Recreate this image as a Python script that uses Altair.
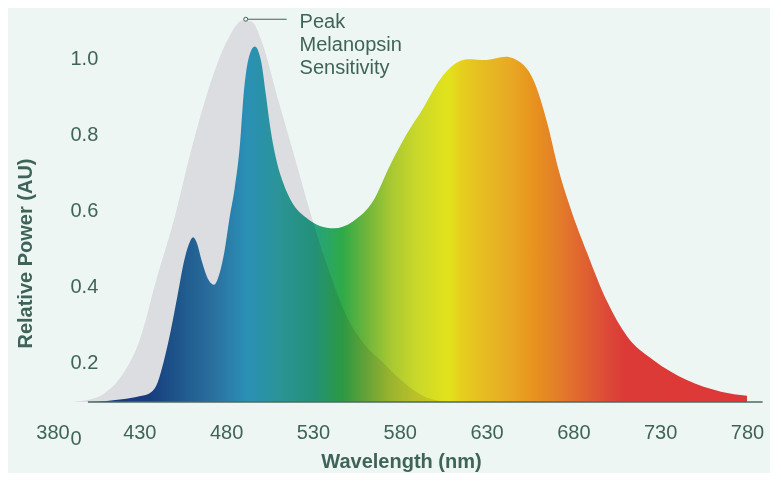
import altair as alt
import pandas as pd

# ---------------- data ----------------
BASE = 0.095  # level of the drawn baseline

mel_wl = [390, 400, 410, 420, 430, 440, 450, 460, 470, 480, 490, 495, 500,
          510, 520, 530, 540, 550, 560, 570, 580, 590, 600, 610]
mel_val = [0.095, 0.100, 0.118, 0.165, 0.255, 0.42, 0.575, 0.76, 0.92, 1.04,
           1.10, 1.095, 1.05, 0.89, 0.73, 0.57, 0.43, 0.315, 0.245, 0.20,
           0.155, 0.12, 0.10, 0.095]

spd_wl = [400, 410, 420, 430, 436, 440, 444, 448, 452, 456, 459, 461, 463,
          466, 470, 473, 476, 479, 482, 485, 488, 490, 493, 496.5, 500, 503,
          505, 509, 513, 518, 526, 534, 542, 553, 565, 574, 584, 594, 603,
          611, 619, 630, 641, 649, 657, 665, 671, 678, 688, 699, 711, 726,
          745, 765, 780]
spd_val = [0.095, 0.097, 0.102, 0.11, 0.118, 0.14, 0.20, 0.28, 0.375, 0.47,
           0.515, 0.528, 0.515, 0.465, 0.415, 0.403, 0.43, 0.49, 0.58, 0.66,
           0.775, 0.90, 1.00, 1.03, 0.995, 0.90, 0.83, 0.73, 0.67, 0.62,
           0.58, 0.558, 0.552, 0.57, 0.626, 0.714, 0.80, 0.872, 0.942,
           0.982, 0.997, 0.995, 1.003, 0.99, 0.942, 0.828, 0.714, 0.609,
           0.486, 0.363, 0.267, 0.205, 0.153, 0.122, 0.111]

x_ticks = [380, 430, 480, 530, 580, 630, 680, 730, 780]
y_ticks = [0, 0.2, 0.4, 0.6, 0.8, 1.0]

peak_wl = 491.3
peak_val = 1.102
note_lines = ["Peak", "Melanopsin", "Sensitivity"]

# ---------------- styles ----------------
BG = "#eef6f3"
TXT = "#3e6459"
FONT = "Liberation Sans"
GREY = "#ece5eb"  # multiplied over background / spectrum
spectrum_stops = [
    (400, "#183f81"), (436, "#19448a"), (453, "#206197"), (472, "#2d7bac"),
    (492, "#2da1c6"), (511, "#2da5a3"), (530, "#26a283"), (547, "#2eaa48"),
    (560, "#6ab43c"), (575, "#a8c832"), (590, "#cad82a"), (608, "#e2e31a"),
    (615, "#e6d01e"), (628, "#e6bc22"), (643, "#e8aa24"), (655, "#e8961e"),
    (670, "#e48028"), (685, "#e06430"), (700, "#dc4838"), (710, "#dc3a36"),
    (780, "#dc3838"),
]

mel = pd.DataFrame({"wl": mel_wl, "val": mel_val, "base": BASE})
spd = pd.DataFrame({"wl": spd_wl, "val": spd_val, "base": BASE})
base_df = pd.DataFrame({"wl": [400.4], "wl2": [789.0], "val": [BASE]})
peak_df = pd.DataFrame({"wl": [peak_wl], "val": [peak_val]})
lead_df = pd.DataFrame({"wl": [peak_wl + 0.8], "wl2": [514.9], "val": [peak_val]})
note_df = pd.DataFrame({"wl": [522.3], "val": [1.079], "txt": [note_lines]})

xs = alt.Scale(domain=[380, 780], nice=False, zero=False)
ys = alt.Scale(domain=[0, 1.1], nice=False, zero=False)

x_axis = alt.Axis(
    values=x_ticks, format="d", title="Wavelength (nm)", domain=False,
    ticks=False, tickSize=0, grid=False, labelFlush=False, labelOverlap=False,
    labelPadding=0, offset=-6, labelBaseline="middle", labelFontSize=20,
    labelColor=TXT, labelFont=FONT, titleFont=FONT, titleFontSize=20,
    titleFontWeight="bold", titleColor=TXT, titleX=348.5, titleY=29,
    titleBaseline="middle",
)
y_axis = alt.Axis(
    values=y_ticks,
    labelExpr="datum.value == 0 ? '0' : format(datum.value, '.1f')",
    title="Relative Power (AU)", domain=False, ticks=False, tickSize=0,
    grid=False, labelFlush=False, labelOverlap=False, labelAlign="left",
    labelPadding=0, offset=-17.5, labelFontSize=20, labelColor=TXT,
    labelFont=FONT, titleFont=FONT, titleFontSize=20, titleFontWeight="bold",
    titleColor=TXT, titleX=-45, titleY=233, titleBaseline="middle",
)

X = alt.X("wl:Q", scale=xs, axis=x_axis)
Y = alt.Y("val:Q", scale=ys, axis=y_axis)

grad = alt.Gradient(
    gradient="linear",
    stops=[alt.GradientStop(offset=(w - 400) / 380.0, color=c) for w, c in spectrum_stops],
    x1=0, x2=1, y1=0, y2=0,
)

spectrum = alt.Chart(spd).mark_area(interpolate="monotone", color=grad).encode(
    x=X, y=Y, y2="base:Q"
)
grey = alt.Chart(mel).mark_area(
    interpolate="monotone", color=GREY, blend="multiply"
).encode(x=X, y=Y, y2="base:Q")

baseline = alt.Chart(base_df).mark_rule(color="#4b6a62", strokeWidth=1.5).encode(
    x=X, x2="wl2:Q", y=Y
)
lead = alt.Chart(lead_df).mark_rule(color=TXT, strokeWidth=1).encode(
    x=X, x2="wl2:Q", y=Y
)
peak = alt.Chart(peak_df).mark_point(
    shape="circle", size=16, filled=True, fill=BG, stroke=TXT, strokeWidth=1, opacity=1
).encode(x=X, y=Y)
note = alt.Chart(note_df).mark_text(
    align="left", baseline="alphabetic", fontSize=20, lineHeight=23,
    color=TXT, font=FONT
).encode(x=X, y=Y, text="txt")

chart = alt.layer(spectrum, grey, baseline, lead, peak, note).properties(
    width=694.5, height=418,
    padding={"left": 44.5, "top": 12, "right": 23, "bottom": 35},
    autosize=alt.AutoSizeParams(type="none"),
    background=BG,
).configure_view(stroke=None)

chart.save("out.html", embed_options={"renderer": "svg", "actions": False})
